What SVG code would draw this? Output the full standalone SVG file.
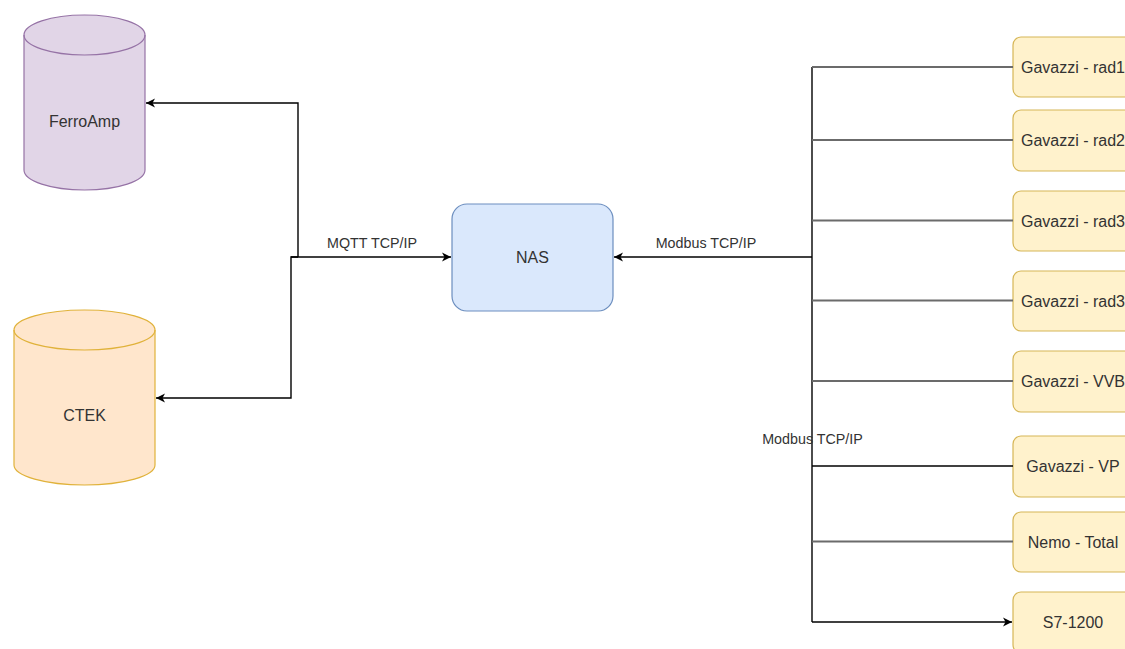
<svg xmlns="http://www.w3.org/2000/svg" width="1125" height="649" viewBox="0 0 1125 649">
<style>
.lbl{font-family:"Liberation Sans",Arial,sans-serif;font-size:16px;fill:#333;text-anchor:middle;dominant-baseline:central}
.elbl{font-family:"Liberation Sans",Arial,sans-serif;font-size:14.3px;fill:#333;text-anchor:middle}
.box{fill:#fff2cc;stroke:#d6b656;stroke-width:1.2}
.blk{fill:none;stroke:#000;stroke-width:1.4}
.gry{fill:none;stroke:#6b6b6b;stroke-width:2}
</style>
<defs>
<marker id="arr" markerWidth="10" markerHeight="10" refX="9" refY="5" orient="auto" markerUnits="userSpaceOnUse">
<path d="M0,0.5 L9,5 L0,9.5 L2.5,5 Z" fill="#000"/>
</marker>
</defs>
<rect width="1125" height="649" fill="#fff"/>
<g id="ferroamp">
<path d="M24,35 A60.5,20 0 0 1 145,35 L145,170 A60.5,20 0 0 1 24,170 Z" fill="#e1d5e7" stroke="#9673a6" stroke-width="1.2"/>
<path d="M24,35 A60.5,20 0 0 0 145,35" fill="none" stroke="#9673a6" stroke-width="1.2"/>
<text class="lbl" x="84.5" y="121">FerroAmp</text>
</g>
<g id="ctek">
<path d="M14,330 A70.5,20 0 0 1 155,330 L155,465 A70.5,20 0 0 1 14,465 Z" fill="#ffe6cc" stroke="#e0b23a" stroke-width="1.2"/>
<path d="M14,330 A70.5,20 0 0 0 155,330" fill="none" stroke="#e0b23a" stroke-width="1.2"/>
<text class="lbl" x="84.5" y="415">CTEK</text>
</g>
<g id="nas">
<rect x="452" y="204" width="161" height="107" rx="15" fill="#dae8fc" stroke="#6c8ebf" stroke-width="1.2"/>
<text class="lbl" x="532.5" y="257.5">NAS</text>
</g>
<g id="rad1"><rect class="box" x="1013" y="37" width="120" height="60" rx="8"/><text class="lbl" x="1073" y="67">Gavazzi - rad1</text></g>
<g id="rad2"><rect class="box" x="1013" y="110" width="120" height="61" rx="8"/><text class="lbl" x="1073" y="140">Gavazzi - rad2</text></g>
<g id="rad3a"><rect class="box" x="1013" y="191" width="120" height="60" rx="8"/><text class="lbl" x="1073" y="221">Gavazzi - rad3</text></g>
<g id="rad3b"><rect class="box" x="1013" y="271" width="120" height="60" rx="8"/><text class="lbl" x="1073" y="301">Gavazzi - rad3</text></g>
<g id="vvb"><rect class="box" x="1013" y="351" width="120" height="61" rx="8"/><text class="lbl" x="1073" y="381">Gavazzi - VVB</text></g>
<g id="vp"><rect class="box" x="1013" y="436" width="120" height="61" rx="8"/><text class="lbl" x="1073" y="466">Gavazzi - VP</text></g>
<g id="nemo"><rect class="box" x="1013" y="512" width="120" height="60" rx="8"/><text class="lbl" x="1073" y="542">Nemo - Total</text></g>
<g id="s7"><rect class="box" x="1013" y="592" width="120" height="61" rx="8"/><text class="lbl" x="1073" y="622">S7-1200</text></g>
<g id="connectors">
<path class="blk" d="M298,257 L298,103 L146,103" marker-end="url(#arr)"/>
<path class="blk" d="M298,257 L291,257 L291,398 L156,398" marker-end="url(#arr)"/>
<path class="blk" d="M291,257 L451,257" marker-end="url(#arr)"/>
<text class="elbl" x="372" y="248">MQTT TCP/IP</text>
<path class="blk" d="M812,67 L812,622"/>
<path class="blk" d="M812,257 L614,257" marker-end="url(#arr)"/>
<text class="elbl" x="706" y="248">Modbus TCP/IP</text>
<path class="gry" d="M812,67 L1013,67"/>
<path class="gry" d="M812,140 L1013,140"/>
<path class="gry" d="M812,220.5 L1013,220.5"/>
<path class="gry" d="M812,300.5 L1013,300.5"/>
<path class="gry" d="M812,381 L1013,381"/>
<path class="blk" d="M812,466 L1013,466"/>
<path class="gry" d="M812,541.5 L1013,541.5"/>
<path class="blk" d="M812,622 L1012,622" stroke-width="2" marker-end="url(#arr)"/>
<text class="elbl" x="812.5" y="444">Modbus TCP/IP</text>
</g>
</svg>
